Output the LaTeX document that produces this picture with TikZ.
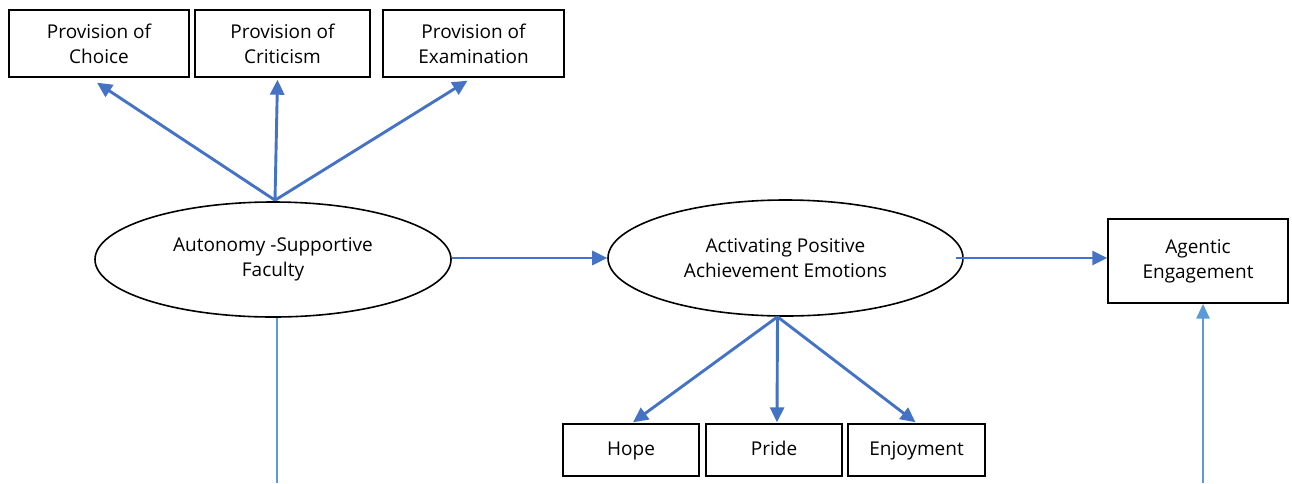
\documentclass[tikz,border=0pt]{standalone}
\usepackage{fontspec}
\setmainfont{Open Sans}
\usetikzlibrary{arrows.meta,shapes.geometric,calc}
\definecolor{dblue}{HTML}{4472C4}
\definecolor{lblue}{HTML}{5B9BD5}
\begin{document}
\begin{tikzpicture}[x=1pt,y=-1pt,
  txt/.style={font=\fontsize{19}{25}\selectfont, align=center, text=black},
  box/.style={txt, draw=black, line width=1.4pt, inner sep=0pt},
  oval/.style={txt, draw=black, line width=1.6pt, ellipse, inner sep=0pt},
  conn/.style={draw=dblue, line width=2.9pt, -{Triangle[length=15pt,width=14pt]}},
  lconn/.style={draw=lblue, line width=2.9pt, -{Triangle[length=15pt,width=13pt]}},
  lline/.style={draw=lblue, line width=1.3pt}]
\useasboundingbox (0,0) rectangle (1292,483);
\node[box, minimum width=180, minimum height=67] (choice) at (99,43.5) {Provision of\\Choice};
\node[box, minimum width=175, minimum height=67] (crit) at (282.5,43.5) {Provision of\\Criticism};
\node[box, minimum width=181, minimum height=67] (exam) at (473.5,43.5) {Provision of\\Examination};
\node[oval, minimum width=356, minimum height=115] (auto) at (273,259.5) {Autonomy -Supportive\\Faculty};
\node[oval, minimum width=355, minimum height=116] (act) at (785.5,258) {Activating Positive\\Achievement Emotions};
\node[box, minimum width=180, minimum height=84] (agen) at (1198,261) {Agentic\\Engagement};
\node[box, minimum width=136, minimum height=52] (hope) at (631,450) {\strut Hope};
\node[box, minimum width=136, minimum height=52] (pride) at (774,450) {\strut Pride};
\node[box, minimum width=137, minimum height=52] (enj) at (916.5,450) {\strut Enjoyment};
\coordinate (atop) at ($(auto.north)+(2,-1)$);
\coordinate (abot) at ($(act.south)+(-8,0)$);
\coordinate (lstart) at (277,483);
\coordinate (rstart) at (1203,483);
\draw[conn] (atop) -- ($(choice.south)+(-2,5)$);
\draw[conn] (atop) -- ($(crit.south)+(-5,2)$);
\draw[conn] (atop) -- ($(exam.south)+(-6,3)$);
\draw[conn] (auto.east |- act.west) -- (act.west);
\draw[conn] ($(act.east)+(-8,0)$) -- (agen.west |- act.east);
\draw[conn] (abot) -- ($(hope.north)+(2,-1)$);
\draw[conn] (abot) -- ($(pride.north)+(3,-1)$);
\draw[conn] (abot) -- ($(enj.north)+(-1,-1)$);
\draw[lline] ($(auto.south)+(4,0)$) -- (lstart);
\draw[lconn] (rstart) -- (agen.south -| rstart);
\end{tikzpicture}
\end{document}
